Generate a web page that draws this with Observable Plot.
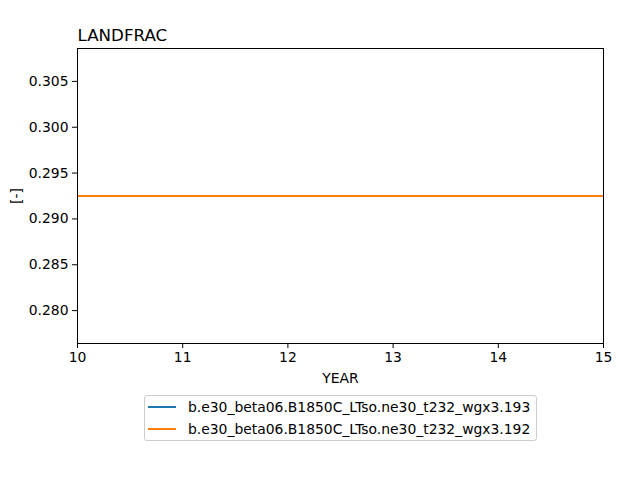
<!DOCTYPE html>
<html>
<head>
<meta charset="utf-8">
<script src="https://cdn.jsdelivr.net/npm/d3@7"></script>
<script src="https://cdn.jsdelivr.net/npm/@observablehq/plot@0.6"></script>
<style>
  html, body { margin: 0; padding: 0; background: #fff; }
  #wrap { position: relative; width: 640px; height: 480px; font-family: "DejaVu Sans", sans-serif; }
  #legend {
    position: absolute; left: 144px; top: 395px; width: 393px; height: 46px;
    box-sizing: border-box; border: 1px solid #cccccc; border-radius: 3px; background: #fff;
    font-size: 13.9px; color: #000;
  }
  .item { position: absolute; left: 0; height: 20px; display: flex; align-items: center; }
  .swatch { position: absolute; left: 3px; width: 28px; height: 2px; }
  .lab { position: absolute; left: 43px; white-space: nowrap; }
</style>
</head>
<body>
<div id="wrap"></div>
<script>
const title = "LANDFRAC";
const yLabel = "[-]";
const xLabel = "YEAR";
const years = [10, 11, 12, 13, 14, 15];
const seriesNames = [
  "b.e30_beta06.B1850C_LTso.ne30_t232_wgx3.193",
  "b.e30_beta06.B1850C_LTso.ne30_t232_wgx3.192"
];
const seriesColors = ["#1f77b4", "#ff7f0e"];
const values193 = [0.2925, 0.2925, 0.2925, 0.2925, 0.2925, 0.2925];
const values192 = [0.2925, 0.2925, 0.2925, 0.2925, 0.2925, 0.2925];
const yTicks = [0.280, 0.285, 0.290, 0.295, 0.300, 0.305];
const xTicks = [10, 11, 12, 13, 14, 15];

const allValues = [values193, values192];
const rows = [];
allValues.forEach((vals, s) => vals.forEach((v, i) => rows.push({year: years[i], value: v, series: seriesNames[s]})));

// matplotlib-like autoscale for flat data: expand 5% of value, then 5% margins
const v0 = d3.min(rows, d => d.value), v1 = d3.max(rows, d => d.value);
let lo = v0, hi = v1;
if (lo === hi) { lo = v0 - 0.05 * Math.abs(v0); hi = v1 + 0.05 * Math.abs(v1); }
const pad = (hi - lo) * 0.05;
const yDomain = [lo - pad, hi + pad];

const plot = Plot.plot({
  width: 640,
  height: 480,
  marginTop: 48,
  marginLeft: 77,
  marginRight: 37,
  marginBottom: 137,
  style: { fontFamily: "DejaVu Sans, sans-serif", fontSize: "13.9px", color: "#000", background: "#fff" },
  x: { domain: [years[0], years[years.length - 1]] },
  y: { domain: yDomain },
  color: { domain: seriesNames, range: seriesColors },
  marks: [
    Plot.axisX({ ticks: xTicks, tickFormat: d3.format("d"), tickSize: 5, tickPadding: 4,
      label: xLabel, labelAnchor: "center", labelArrow: "none", labelOffset: 39 }),
    Plot.axisY({ ticks: yTicks, tickFormat: d3.format(".3f"), tickSize: 5, tickPadding: 4,
      label: yLabel, labelAnchor: "center", labelArrow: "none", labelOffset: 66 }),
    Plot.line(rows, { x: "year", y: "value", z: "series", stroke: "series", strokeWidth: 2,
      shapeRendering: "crispEdges" }),
    Plot.frame({ stroke: "#000", strokeWidth: 1 }),
    Plot.text([title], { frameAnchor: "top-left", text: d => d, textAnchor: "start", lineAnchor: "bottom",
      dy: -8, fontSize: 16.7, fill: "#000" })
  ]
});

const wrap = document.getElementById("wrap");
wrap.appendChild(plot);

const legend = document.createElement("div");
legend.id = "legend";
seriesNames.forEach((name, i) => {
  const item = document.createElement("div");
  item.className = "item";
  item.style.top = (1 + i * 22) + "px";
  item.style.width = "100%";
  const sw = document.createElement("div");
  sw.className = "swatch";
  sw.style.background = seriesColors[i];
  const lab = document.createElement("div");
  lab.className = "lab";
  lab.textContent = name;
  item.appendChild(sw);
  item.appendChild(lab);
  legend.appendChild(item);
});
wrap.appendChild(legend);
</script>
</body>
</html>
